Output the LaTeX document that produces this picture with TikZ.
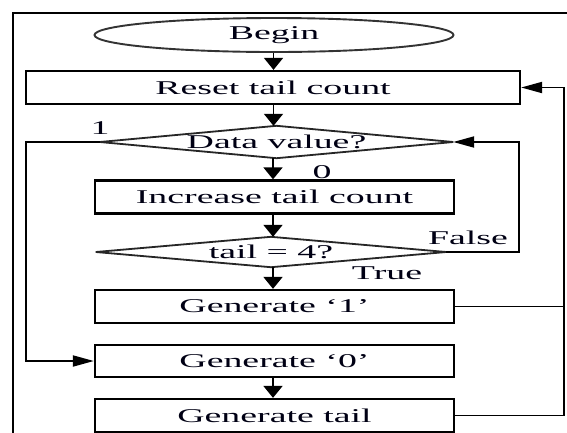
\documentclass[tikz,border=0pt]{standalone}
\usepackage{fontspec}
\usepackage{graphicx}
\setmainfont{Liberation Serif}
\usetikzlibrary{shapes.geometric,arrows.meta}
\newcommand\wtxt[1]{\scalebox{1.94}[1]{#1}}
\begin{document}
\begin{tikzpicture}[x=1pt,y=-1pt,
  every node/.style={font=\fontsize{19.5}{21}\selectfont, text=black!92!blue},
  box/.style={draw, line width=2.3pt, rectangle, inner sep=0pt, minimum width=359pt, minimum height=33pt},
  dia/.style={rectangle, inner sep=0pt},
  conn/.style={line width=1.9pt},
  varr/.style={conn, -{Triangle[length=12pt,width=19pt]}},
  harr/.style={conn, -{Triangle[length=21pt,width=11pt]}},
  lbl/.style={inner sep=0pt}]
\useasboundingbox (0,0) rectangle (567,432);
\clip (0,0) rectangle (567,432);
\fill[white] (0,0) rectangle (567,432);
\draw[line width=2.2pt] (13,445) -- (13,13) -- (580,13);

\node[draw, ellipse, line width=1.9pt, draw=black!80, inner sep=0pt, minimum width=359pt, minimum height=34pt] (begin) at (274,35) {\raisebox{2pt}{\wtxt{Begin}}};
\node[box, minimum width=494pt] (reset) at (273,87.5) {\wtxt{Reset tail count}};
\node[dia, minimum width=353pt, minimum height=32pt] (data) at (276.5,142) {\raisebox{-3pt}{\wtxt{Data value?}}};
\draw[line width=1.8pt, draw=black!85] (data.west) -- (data.north) -- (data.east) -- (data.south) -- cycle;
\node[box] (inc) at (274.5,197) {\wtxt{Increase tail count}};
\node[dia, minimum width=350pt, minimum height=30pt] (tail) at (271,252) {\raisebox{-2pt}{\wtxt{tail = 4?}}};
\draw[line width=1.8pt, draw=black!85] (tail.west) -- (tail.north) -- (tail.east) -- (tail.south) -- cycle;
\node[box] (gen1) at (274.5,306.5) {\wtxt{Generate ‘1’}};
\node[box, minimum height=32pt] (gen0) at (274.5,361) {\wtxt{Generate ‘0’}};
\node[box] (gtail) at (274.5,415.5) {\wtxt{Generate tail}};

\node[lbl] (l1) at (100,128) {\wtxt{1}};
\node[lbl] (l0) at (322,172) {\wtxt{0}};
\node[lbl] (lf) at (468,238) {\wtxt{False}};
\node[lbl] (lt) at (387,273) {\wtxt{True}};

\coordinate (L) at (26,361);
\coordinate (F) at (519,142);
\coordinate (R) at (564,87.5);

\draw[varr] (begin.south -| 273.5,0) -- (reset.north -| 273.5,0);
\draw[varr] (reset.south -| 273.5,0) -- (data.north -| 273.5,0);
\draw[varr] (data.south -| 273,0) -- (inc.north -| 273,0);
\draw[varr] (inc.south -| 273,0) -- (tail.north -| 273,0);
\draw[varr] (tail.south -| 273,0) -- (gen1.north -| 273,0);
\draw[varr] (gen0.south -| 273,0) -- (gtail.north -| 273,0);
\draw[harr] (data.west) -| (L) -- (gen0.west);
\draw[harr] (tail.east) -| (F) -- (data.east);
\draw[harr] (gtail.east) -| (R) -- (reset.east);
\draw[conn] (gen1.east) -- (gen1.east -| R);
\end{tikzpicture}
\end{document}
